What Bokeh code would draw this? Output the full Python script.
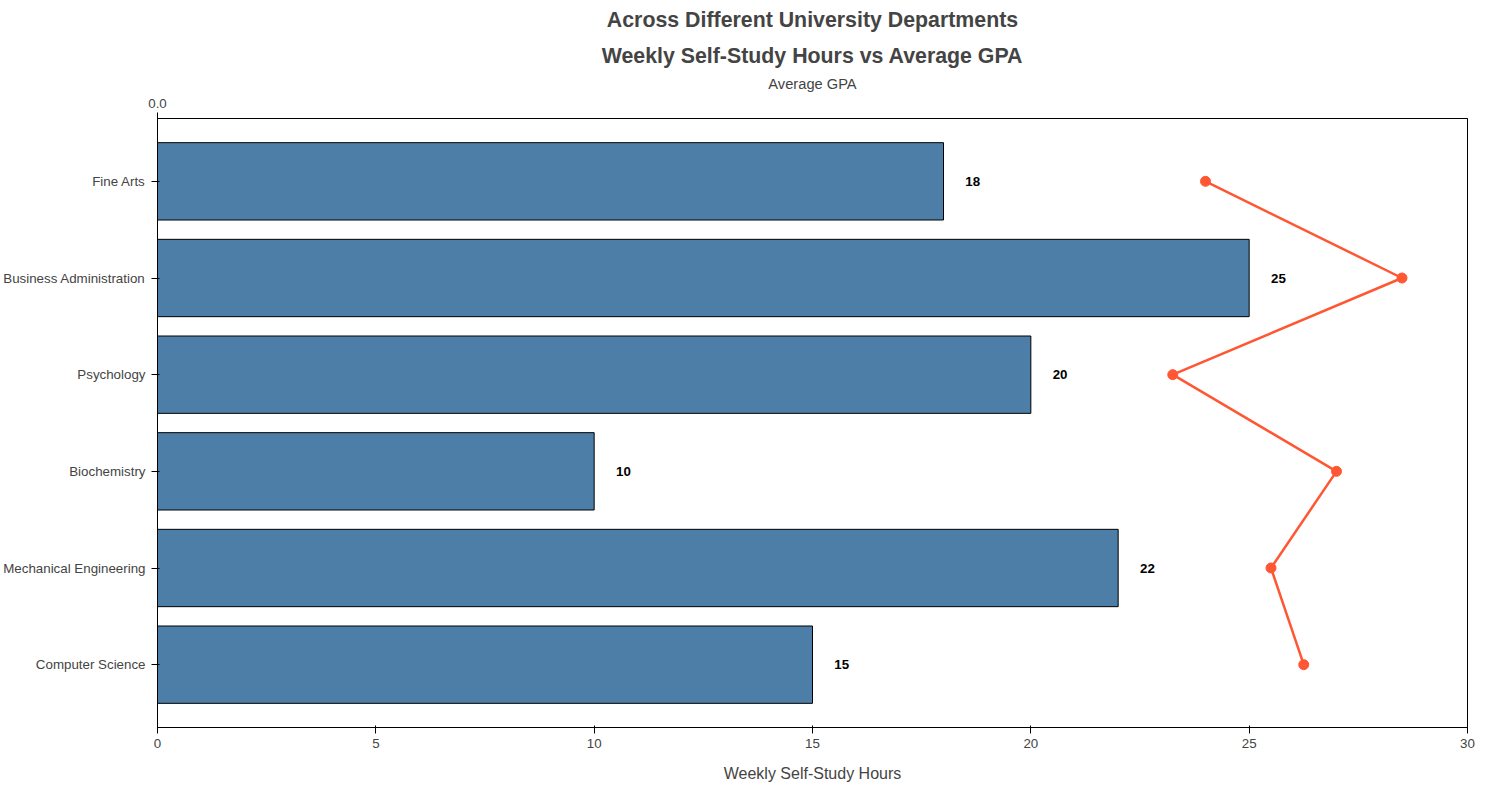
from bokeh.plotting import figure
from bokeh.models import Range1d, LinearAxis, Title, ColumnDataSource, LabelSet
from bokeh.embed import file_html
from bokeh.resources import INLINE

departments = ["Computer Science", "Mechanical Engineering", "Biochemistry",
               "Psychology", "Business Administration", "Fine Arts"]
study_hours = [15, 22, 10, 20, 25, 18]
avg_gpa = [3.5, 3.4, 3.6, 3.1, 3.8, 3.2]

src = ColumnDataSource(dict(dept=departments, hours=study_hours, gpa=avg_gpa,
                            lbl=[str(h) for h in study_hours],
                            lx=[h + 0.5 for h in study_hours]))

p = figure(y_range=departments, x_range=Range1d(0, 30), width=1484, height=784,
           output_backend="svg", toolbar_location=None,
           min_border_left=10, min_border_right=17, min_border_bottom=10)
p.hbar(y="dept", right="hours", height=0.8, source=src,
       fill_color="#4c7ea8", line_color="black")
p.add_layout(LabelSet(x="lx", y="dept", text="lbl", source=src,
                      text_font_size="10pt", text_font_style="bold",
                      text_baseline="middle", text_color="black"))

p.extra_x_ranges = {"gpa": Range1d(0, 4.0)}
ax2 = LinearAxis(x_range_name="gpa", axis_label="Average GPA",
                 ticker=[0, 0.5, 1, 1.5, 2, 2.5, 3, 3.5, 4])
ax2.axis_label_text_font_style = "normal"
ax2.axis_label_text_font_size = "11pt"
ax2.axis_label_standoff = 4
ax2.major_label_text_font_size = "10pt"
ax2.minor_tick_line_color = None
ax2.formatter.__setattr__  # noqa
from bokeh.models import PrintfTickFormatter
ax2.formatter = PrintfTickFormatter(format="%.1f")
p.add_layout(ax2, "above")

p.line(x="gpa", y="dept", source=src, x_range_name="gpa",
       line_color="#ff5733", line_width=2.5)
p.scatter(x="gpa", y="dept", source=src, x_range_name="gpa",
          size=10, fill_color="#ff5733", line_color="#ff5733")

p.xaxis[0].ticker = [0, 5, 10, 15, 20, 25, 30]
p.below[0].axis_label = "Weekly Self-Study Hours"
p.below[0].axis_label_text_font_style = "normal"
p.below[0].axis_label_text_font_size = "12pt"
p.below[0].axis_label_standoff = 14
p.below[0].minor_tick_line_color = None
p.xaxis.major_label_text_font_size = "10pt"
p.yaxis.major_label_text_font_size = "10pt"
p.yaxis.major_label_standoff = 6

p.xgrid.grid_line_color = None
p.ygrid.grid_line_color = None
p.outline_line_color = "black"
p.y_range.range_padding = 0.05

p.title = Title(text="Across Different University Departments", align="center",
                text_font_size="16pt", text_font_style="bold")
p.add_layout(Title(text="Weekly Self-Study Hours vs Average GPA", align="center",
                   text_font_size="16pt", text_font_style="bold"), "above")

open("out.html", "w").write(file_html(p, INLINE))
